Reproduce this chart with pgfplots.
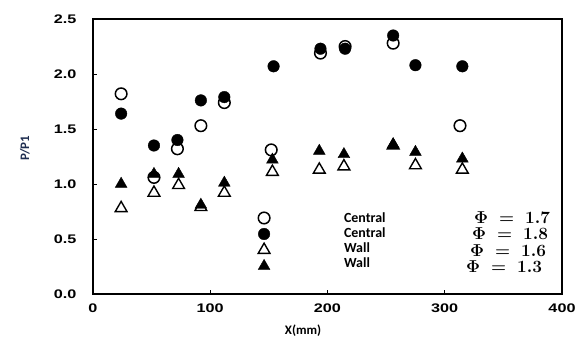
\documentclass[border=0pt]{standalone}
\usepackage{fontspec}
\setmainfont{Liberation Sans}
\newfontfamily\carlito{Carlito}
\newfontfamily\tickfont[FakeStretch=1.3]{Liberation Sans}
\usepackage{pgfplots}
\pgfplotsset{compat=1.18}
\definecolor{lblblue}{RGB}{30,45,80}
\pgfplotsset{myleg/.style={legend image code/.code={\path[draw=none,fill=none] (-6bp,-8bp) rectangle (80bp,8bp); \draw[mark repeat=2,mark phase=2,##1] plot coordinates {(0bp,0bp) (0bp,0bp) (0bp,0bp)};}}}
\newcommand{\lw}[2]{\makebox[#1][l]{\carlito\bfseries\fontsize{14}{14}\selectfont #2}}
\newcommand{\ph}[1]{{\fontsize{16}{16}\selectfont\boldmath$\Phi\;=\;#1$}}
\begin{document}
\begin{tikzpicture}
\useasboundingbox (-93bp,-46bp) rectangle (491bp,294bp);
\begin{axis}[
 at={(0,0)}, anchor=south west,
 scale only axis, width=469bp, height=275bp,
 xmin=0, xmax=400, ymin=0, ymax=2.5,
 xtick={0,100,200,300,400}, ytick={0,0.5,1,1.5,2,2.5},
 tick align=inside, tick pos=left, major tick length=4bp,
 axis line style={line width=1.1bp},
 every tick/.style={line width=0.9bp, black},
 /pgf/number format/assume math mode=true,
 ticklabel style={font=\tickfont\bfseries\fontsize{12.5}{12.5}\selectfont},
 yticklabel style={xshift=-13bp, /pgf/number format/.cd, fixed, fixed zerofill, precision=1, /tikz/.cd},
 xticklabel style={yshift=-6bp},
 xlabel={X(mm)}, ylabel={P/P1},
 xlabel style={at={(axis description cs:0.448,-0.135)}, anchor=center, font=\carlito\bfseries\fontsize{13}{13}\selectfont},
 ylabel style={at={(axis description cs:-0.145,0.53)}, anchor=center, font=\carlito\bfseries\fontsize{13}{13}\selectfont, text=lblblue},
 legend style={draw=none, fill=none, at={(axis description cs:0.352,0.3055)}, anchor=north west, inner sep=0pt, outer sep=0pt, row sep=0pt, column sep=0pt, nodes={inner sep=0pt, outer sep=0pt}},
 legend cell align=left,
]
\addplot[only marks, mark=o, mark size=5.8bp, mark options={line width=1.5bp, black}, myleg] coordinates {
 (24,1.82) (52,1.06) (72,1.32) (92,1.53) (112,1.74) (152,1.31) (194,2.19) (215,2.25) (256,2.28) (313,1.53)};
\addlegendentry{\lw{130bp}{\raisebox{1bp}{Central}}\ph{1.7}}
\addplot[only marks, mark=*, mark size=5.8bp, mark options={fill=black, draw=black}, myleg] coordinates {
 (24,1.64) (52,1.35) (72,1.40) (92,1.76) (112,1.79) (154,2.07) (194,2.23) (215,2.23) (256,2.35) (275,2.08) (315,2.07)};
\addlegendentry{\lw{128bp}{\raisebox{2bp}{Central}}\ph{1.8}}
\addplot[only marks, mark=triangle, mark size=6.8bp, mark options={line width=1.4bp, black}, myleg] coordinates {
 (24,0.78) (52,0.92) (73,0.99) (92,0.79) (112,0.92) (153,1.11) (193,1.13) (214,1.16) (256,1.35) (275,1.17) (315,1.13)};
\addlegendentry{\lw{126bp}{\raisebox{4bp}{Wall}}\ph{1.6}}
\addplot[only marks, mark=triangle*, mark size=6.8bp, mark options={fill=black, draw=black}, myleg] coordinates {
 (24,1.00) (52,1.09) (73,1.09) (92,0.81) (112,1.01) (153,1.22) (193,1.30) (214,1.27) (256,1.36) (275,1.29) (315,1.23)};
\addlegendentry{\lw{122bp}{\raisebox{5bp}{Wall}}\ph{1.3}}
\end{axis}
\end{tikzpicture}
\end{document}
